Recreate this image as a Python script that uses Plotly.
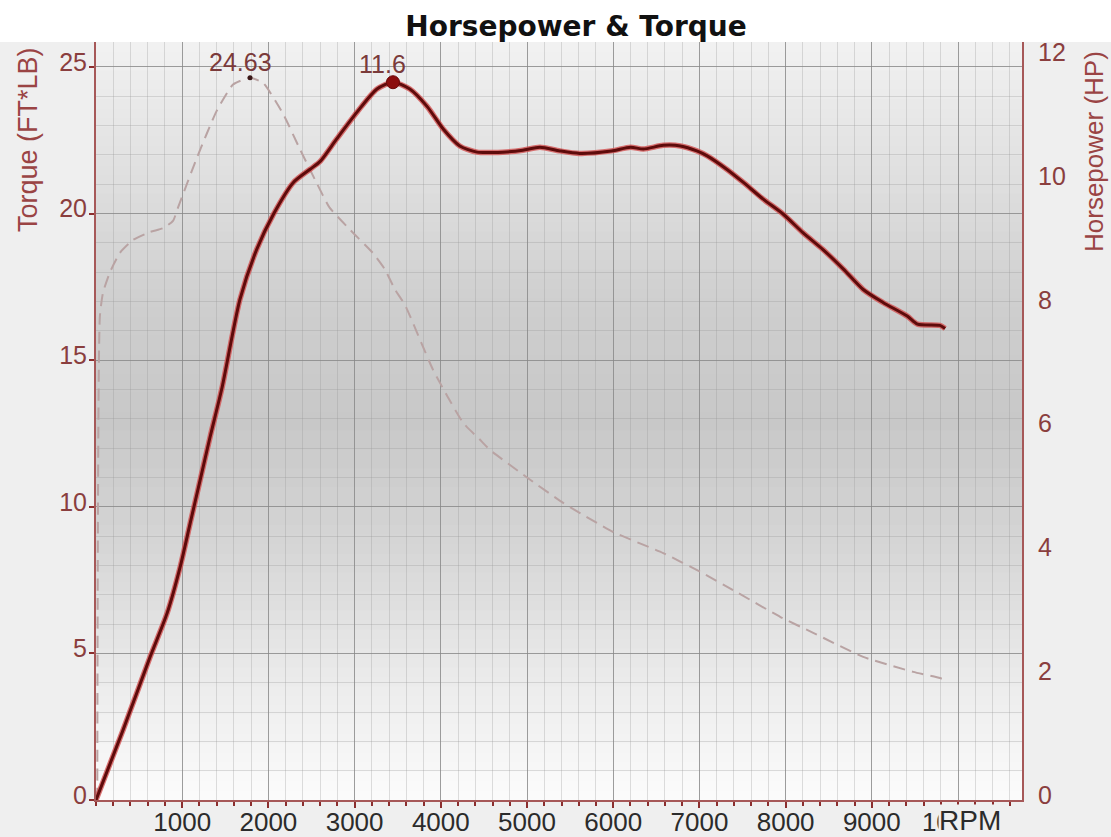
import plotly.graph_objects as go

# ---------------- data ----------------
rpm_hp = [0, 314, 627, 825, 975, 1092, 1208, 1324, 1463, 1670, 1865, 2060, 2290, 2480, 2600,
          2790, 3030, 3260, 3445, 3640, 3840, 4030, 4220, 4420, 4720, 4950, 5150,
          5380, 5610, 5980, 6200, 6350, 6580, 6780, 6970, 7090, 7320, 7510, 7740,
          7970, 8200, 8430, 8670, 8900, 9130, 9410, 9530, 9790, 9850]
hp = [0, 1.13, 2.31, 3.02, 3.76, 4.47, 5.17, 5.87, 6.67, 8.09, 8.9, 9.47, 9.98, 10.19, 10.32,
      10.68, 11.12, 11.49, 11.6, 11.49, 11.21, 10.84, 10.57, 10.47, 10.47, 10.5, 10.55,
      10.49, 10.45, 10.49, 10.55, 10.52, 10.58, 10.57, 10.49, 10.41, 10.19, 9.98, 9.71,
      9.47, 9.17, 8.9, 8.58, 8.25, 8.04, 7.82, 7.69, 7.67, 7.62]

rpm_tq = [15, 45, 81, 162, 278, 430, 626, 777, 893, 951, 1170, 1400, 1590, 1787,
          1940, 2170, 2370, 2560, 2710, 2950, 3210, 3350, 3470, 3585, 3910, 4260,
          4450, 4570, 5000, 5420, 6000, 6580, 7010, 7390, 7940, 8320, 8900, 9480,
          9790, 9850]
torque = [0, 16.5, 17.3, 18.0, 18.66, 19.1, 19.37, 19.5, 19.75, 20.2, 21.9, 23.5, 24.4, 24.63,
          24.45, 23.4, 22.17, 21.04, 20.2, 19.44, 18.66, 18.1, 17.4, 16.88, 14.67, 12.86,
          12.3, 11.94, 11.0, 10.13, 9.14, 8.42, 7.78, 7.16, 6.24, 5.7, 4.88, 4.37,
          4.16, 4.09]

x_ticks = [1000, 2000, 3000, 4000, 5000, 6000, 7000, 8000, 9000, 10000]
x_labels = ["1000", "2000", "3000", "4000", "5000", "6000", "7000", "8000", "9000", "10000"]
tq_ticks = [0, 5, 10, 15, 20, 25]
hp_ticks = [0, 2, 4, 6, 8, 10, 12]

peak_tq_rpm, peak_tq_val, peak_tq_label = 1787, 24.63, "24.63"
peak_hp_rpm, peak_hp_val, peak_hp_label = 3445, 11.6, "11.6"

# ---------------- styles ----------------
RED_AX = "#a65858"
RED_TXT = "#8a3e3e"
FONT = "Liberation Sans"

fig = go.Figure()

fig.add_trace(go.Scatter(
    x=rpm_tq, y=torque, mode="lines", yaxis="y",
    line=dict(color="#b9a3a3", width=2, dash="12px,7px", shape="spline", smoothing=0.5),
    hoverinfo="skip"))

fig.add_trace(go.Scatter(
    x=rpm_hp, y=hp, mode="lines", yaxis="y2",
    line=dict(color="rgba(210,80,80,0.8)", width=5.5, shape="spline", smoothing=0.7),
    hoverinfo="skip"))
fig.add_trace(go.Scatter(
    x=rpm_hp, y=hp, mode="lines", yaxis="y2",
    line=dict(color="#5e0b0b", width=3, shape="spline", smoothing=0.7),
    hoverinfo="skip"))

fig.add_trace(go.Scatter(
    x=[peak_tq_rpm], y=[peak_tq_val], mode="markers", yaxis="y",
    marker=dict(color="#3a1818", size=5), hoverinfo="skip"))
fig.add_trace(go.Scatter(
    x=[peak_hp_rpm], y=[peak_hp_val], mode="markers", yaxis="y2",
    marker=dict(color="#8b0d0d", size=13, line=dict(color="#6a0808", width=1)),
    hoverinfo="skip"))

# gradient background bands + white top band
stops = [(0.0, 252), (0.15, 236), (0.35, 212), (0.5, 200), (0.65, 206), (0.85, 226), (1.0, 242)]


def gray_at(t):
    for (t0, g0), (t1, g1) in zip(stops[:-1], stops[1:]):
        if t0 <= t <= t1:
            return g0 + (g1 - g0) * (t - t0) / (t1 - t0)
    return stops[-1][1]


shapes = []
N = 80
for i in range(N):
    t = (i + 0.5) / N
    g = int(round(gray_at(t)))
    shapes.append(dict(type="rect", xref="paper", yref="paper", x0=0, x1=1,
                       y0=i / N, y1=(i + 1) / N + 0.002,
                       fillcolor=f"rgb({g},{g},{g})", line=dict(width=0), layer="below"))
shapes.append(dict(type="rect", xref="paper", yref="paper", x0=-0.2, x1=1.2, y0=1, y1=1.2,
                   fillcolor="white", line=dict(width=0), layer="below"))

annotations = [
    dict(x=peak_tq_rpm, y=peak_tq_val, xref="x", yref="y", text=peak_tq_label,
         showarrow=False, xshift=-10, yshift=16,
         font=dict(family=FONT, size=25, color="#7a3a3a")),
    dict(x=peak_hp_rpm, y=peak_hp_val, xref="x", yref="y2", text=peak_hp_label,
         showarrow=False, xshift=-10, yshift=18,
         font=dict(family=FONT, size=25, color="#7a3a3a")),
    dict(x=(28 - 96) / 926, y=(800 - 140) / 758, xref="paper", yref="paper", text="Torque (FT*LB)",
         textangle=-90, showarrow=False, xanchor="center", yanchor="middle",
         font=dict(family=FONT, size=27, color="#9a4444")),
    dict(x=(1094 - 96) / 926, y=(800 - 152) / 758, xref="paper", yref="paper", text="Horsepower (HP)",
         textangle=-90, showarrow=False, xanchor="center", yanchor="middle",
         font=dict(family=FONT, size=26, color="#9a4444")),
    dict(x=(970 - 96) / 926, y=-21 / 758, xref="paper", yref="paper", text="RPM",
         showarrow=False, xanchor="center", yanchor="middle", bgcolor="#efefef",
         borderpad=0, font=dict(family=FONT, size=28, color="#2b2b2b")),
]

fig.update_layout(
    width=1111, height=837,
    margin=dict(l=96, r=89, t=42, b=37, pad=0, autoexpand=False),
    paper_bgcolor="#efefef", plot_bgcolor="rgba(0,0,0,0)",
    showlegend=False,
    title=dict(text="<b>Horsepower &amp; Torque</b>", x=(576 - 96) / 926, xref="paper",
               y=1 - 26 / 837, yref="container", xanchor="center", yanchor="middle",
               font=dict(family="DejaVu Sans", size=28, color="#111111")),
    xaxis=dict(range=[0, 10742], tickmode="array", tickvals=x_ticks, ticktext=x_labels,
               automargin=False,
               showgrid=True, gridcolor="rgba(135,135,135,0.75)", gridwidth=1,
               minor=dict(tickmode="linear", tick0=0, dtick=200, showgrid=True,
                          gridcolor="rgba(150,150,150,0.3)", ticks="outside", ticklen=4,
                          tickcolor="#8b2e2e", tickwidth=2),
               ticks="outside", ticklen=6, tickwidth=2, tickcolor="#8b2e2e",
               showline=True, linecolor=RED_AX, linewidth=2, zeroline=False,
               ticklabelstandoff=-8,
               tickfont=dict(family=FONT, size=26, color="#2b2b2b")),
    yaxis=dict(range=[0, 25.85], tickmode="array", tickvals=tq_ticks,
               automargin=False,
               showgrid=True, gridcolor="rgba(135,135,135,0.75)", gridwidth=1,
               minor=dict(tickmode="linear", tick0=0, dtick=1, showgrid=True,
                          gridcolor="rgba(150,150,150,0.3)"),
               ticks="outside", ticklen=5, tickwidth=2, tickcolor="#8b2e2e",
               showline=True, linecolor=RED_AX, linewidth=2, zeroline=False,
               ticklabelshift=-5, ticklabelstandoff=-3,
               tickfont=dict(family=FONT, size=25, color=RED_TXT)),
    yaxis2=dict(range=[0, 12.25], tickmode="array", tickvals=hp_ticks, overlaying="y",
                automargin=False,
                side="right", showgrid=False, zeroline=False,
                ticks="", showline=True, linecolor=RED_AX, linewidth=2,
                ticklabelstandoff=9, ticklabelshift=-5,
                tickfont=dict(family=FONT, size=25, color=RED_TXT)),
    shapes=shapes,
    annotations=annotations,
)

fig.write_html("out.html", config={"displayModeBar": False},
               post_script="document.body.style.margin='0px';")
